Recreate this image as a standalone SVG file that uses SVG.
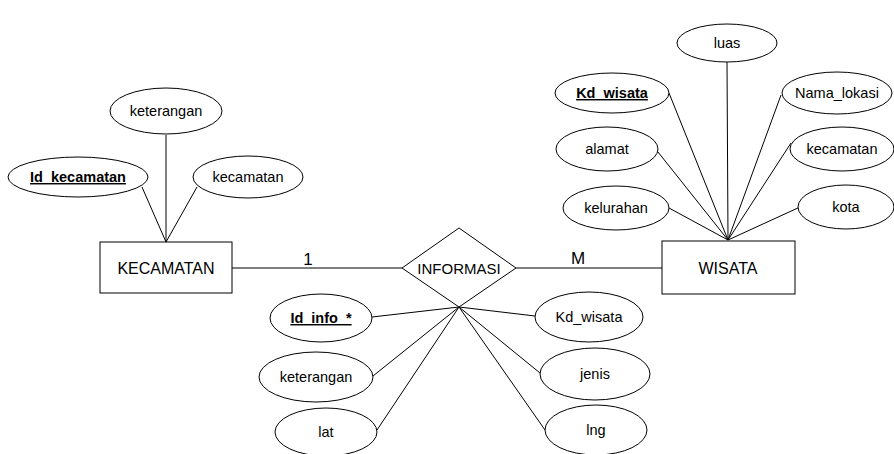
<svg xmlns="http://www.w3.org/2000/svg" width="894" height="454" viewBox="0 0 894 454">
<style>
.s{fill:#fff;stroke:#000;stroke-width:1}
.l{stroke:#000;stroke-width:1;fill:none}
text{font-family:"Liberation Sans",Arial,sans-serif;fill:#000;text-anchor:middle}
.a{font-size:14.5px}
.k{font-size:14.5px;font-weight:bold;text-decoration:underline}
.e{font-size:16px}
.r{font-size:15px}
.c{font-size:17px}
</style>
<rect width="894" height="454" fill="#fff"/>
<g id="connectors">
<line class="l" x1="142" y1="187" x2="166" y2="242"/>
<line class="l" x1="166" y1="135" x2="166" y2="242"/>
<line class="l" x1="197" y1="187" x2="166" y2="242"/>
<line class="l" x1="727" y1="62" x2="728" y2="240"/>
<line class="l" x1="669" y1="93" x2="728" y2="240"/>
<line class="l" x1="658" y1="152" x2="728" y2="240"/>
<line class="l" x1="669" y1="208" x2="728" y2="240"/>
<line class="l" x1="781" y1="95" x2="728" y2="240"/>
<line class="l" x1="791" y1="143" x2="728" y2="240"/>
<line class="l" x1="800" y1="207" x2="728" y2="240"/>
<line class="l" x1="459" y1="307" x2="372" y2="317"/>
<line class="l" x1="459" y1="307" x2="373" y2="376"/>
<line class="l" x1="459" y1="307" x2="377" y2="430"/>
<line class="l" x1="459" y1="307" x2="535" y2="316"/>
<line class="l" x1="459" y1="307" x2="540" y2="373"/>
<line class="l" x1="459" y1="307" x2="545" y2="430"/>
<line class="l" x1="232" y1="268" x2="402" y2="268"/>
<line class="l" x1="516" y1="268" x2="662" y2="268"/>
<text class="c" x="308" y="265">1</text>
<text class="c" x="578" y="264">M</text>
</g>
<g id="kecamatan-entity"><rect class="s" x="100" y="242" width="132" height="51"/><text class="e" x="166" y="274">KECAMATAN</text></g>
<g id="wisata-entity"><rect class="s" x="662" y="241" width="133" height="53"/><text class="e" x="728" y="274">WISATA</text></g>
<g id="informasi"><polygon class="s" points="459,228 516,268 459,307 402,268"/><text class="r" x="459" y="274">INFORMASI</text></g>
<g id="k-keterangan"><ellipse class="s" cx="166" cy="111" rx="56" ry="23"/><text class="a" x="166" y="116">keterangan</text></g>
<g id="k-id"><ellipse class="s" cx="78" cy="177" rx="70" ry="20"/><text class="k" x="78" y="182">Id_kecamatan</text></g>
<g id="k-kecamatan"><ellipse class="s" cx="248" cy="177" rx="55" ry="21"/><text class="a" x="248" y="182">kecamatan</text></g>
<g id="w-luas"><ellipse class="s" cx="727" cy="43" rx="50" ry="19"/><text class="a" x="727" y="48">luas</text></g>
<g id="w-kd"><ellipse class="s" cx="612" cy="93" rx="57" ry="20"/><text class="k" x="612" y="98">Kd_wisata</text></g>
<g id="w-alamat"><ellipse class="s" cx="607" cy="149" rx="51" ry="22"/><text class="a" x="607" y="154">alamat</text></g>
<g id="w-kelurahan"><ellipse class="s" cx="616" cy="208" rx="53" ry="22"/><text class="a" x="616" y="213">kelurahan</text></g>
<g id="w-nama"><ellipse class="s" cx="837" cy="93" rx="55" ry="21"/><text class="a" x="837" y="98">Nama_lokasi</text></g>
<g id="w-kecamatan"><ellipse class="s" cx="842" cy="149" rx="52" ry="22"/><text class="a" x="842" y="154">kecamatan</text></g>
<g id="w-kota"><ellipse class="s" cx="846" cy="207" rx="48" ry="22"/><text class="a" x="846" y="212">kota</text></g>
<g id="i-id"><ellipse class="s" cx="321" cy="318" rx="51" ry="24"/><text class="k" x="321" y="323">Id_info_*</text></g>
<g id="i-keterangan"><ellipse class="s" cx="316" cy="377" rx="57" ry="25"/><text class="a" x="316" y="382">keterangan</text></g>
<g id="i-lat"><ellipse class="s" cx="326" cy="432" rx="51" ry="24"/><text class="a" x="326" y="437">lat</text></g>
<g id="i-kd"><ellipse class="s" cx="589" cy="317" rx="54" ry="25"/><text class="a" x="589" y="322">Kd_wisata</text></g>
<g id="i-jenis"><ellipse class="s" cx="595" cy="374" rx="55" ry="26"/><text class="a" x="595" y="379">jenis</text></g>
<g id="i-lng"><ellipse class="s" cx="596" cy="430" rx="51" ry="25"/><text class="a" x="596" y="435">lng</text></g>
</svg>
